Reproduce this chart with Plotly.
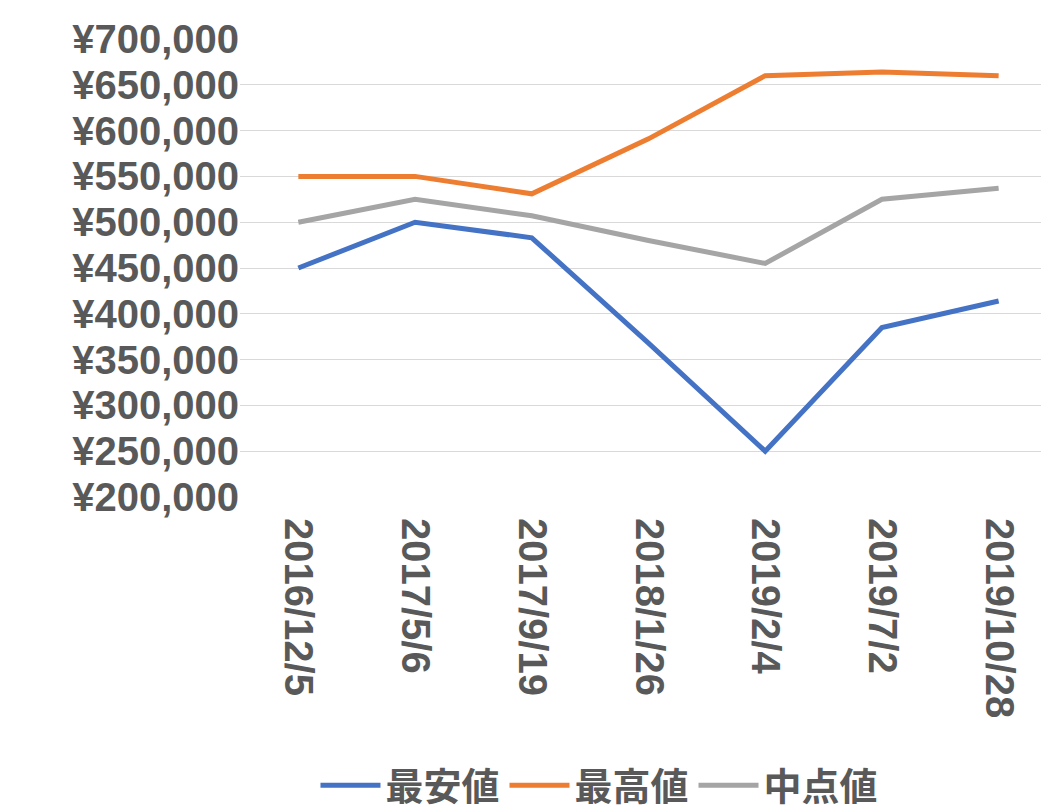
import plotly.graph_objects as go

dates = ["2016/12/5","2017/5/6","2017/9/19","2018/1/26","2019/2/4","2019/7/2","2019/10/28"]
low = [450000, 500000, 483000, 368000, 250000, 385000, 414000]
high = [550000, 550000, 531000, 591000, 660000, 664000, 660000]
mid = [500000, 525000, 507000, 480000, 455000, 525000, 537000]

fig = go.Figure()
for name, vals, col in [("最安値", low, "#4472C4"), ("最高値", high, "#ED7D31"), ("中点値", mid, "#A5A5A5")]:
    fig.add_trace(go.Scatter(x=dates, y=vals, name=name, mode="lines", line=dict(color=col, width=5)))

tf = dict(size=40, color="#595959", family="Liberation Sans, sans-serif", weight="bold")
fig.update_layout(
    width=1049, height=807, plot_bgcolor="white", paper_bgcolor="white",
    margin=dict(l=232, r=0, t=31, b=318, autoexpand=False),
    font=dict(family="Noto Sans CJK JP, sans-serif", size=30, color="#595959"),
    xaxis=dict(type="category", tickangle=90, showgrid=False, showline=False,
               range=[-0.5, 6.5], automargin=False, ticklen=12, tickcolor="white",
               ticks="outside", tickfont=tf),
    yaxis=dict(range=[200000, 700000], dtick=50000, tickprefix="¥", tickformat=",",
               gridcolor="#D9D9D9", zeroline=False, automargin=False, tickfont=tf),
    legend=dict(orientation="h", x=0.44, xanchor="center", y=-0.63, yanchor="middle",
                font=dict(size=38, color="#595959", weight="bold"), itemwidth=60),
)
fig.write_html("out.html")
